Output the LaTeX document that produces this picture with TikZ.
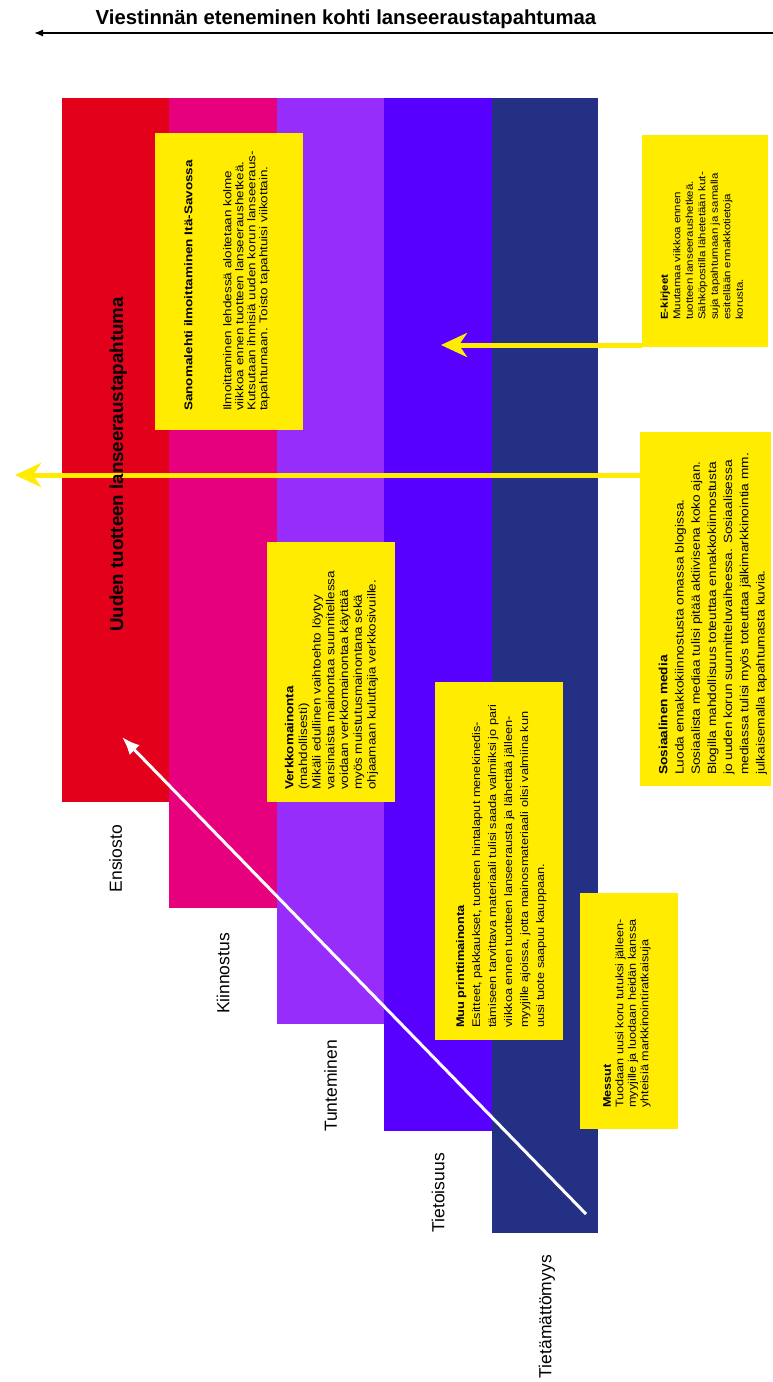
\documentclass[tikz,border=0pt]{standalone}
\usepackage{fontspec}
\setmainfont{Liberation Sans}
\usetikzlibrary{arrows.meta,calc,positioning}
\definecolor{punainen}{RGB}{226,0,26}
\definecolor{pinkki}{RGB}{230,0,126}
\definecolor{violetti}{RGB}{150,45,250}
\definecolor{sinivioletti}{RGB}{88,0,255}
\definecolor{tummansininen}{RGB}{36,48,132}
\definecolor{keltainen}{RGB}{255,236,0}
\tikzset{
  laatikko/.style={fill=keltainen, inner sep=0pt, outer sep=0pt},
  teksti/.style={rotate=90, xscale=#1, inner sep=0pt, anchor=north west, align=left},
  vaihe/.style={rotate=90, anchor=base east, inner sep=0pt, font=\fontsize{17.5}{20}\selectfont},
  keltnuoli/.style={keltainen, line width=5pt, -{Stealth[length=26pt,width=24pt,inset=8pt]}},
  valkonuoli/.style={white, line width=3pt, -{Latex[length=18pt,width=14pt]}},
}

\begin{document}
\begin{tikzpicture}[x=1pt, y=-1pt]
    \fill[white] (0,0) rectangle (773,1382);
    \useasboundingbox (0,0) rectangle (773,1382);
    % Otsikko ja aikanuoli
    \node[font=\bfseries\fontsize{20.3}{24}\selectfont] (otsikko) at (346,19) {Viestinnän eteneminen kohti lanseeraustapahtumaa};
    \coordinate (aikaoikea) at (773,33);
    \coordinate (aikavasen) at (34,33);
    \draw[line width=1.3pt, -{Latex[length=9pt,width=7pt]}] (aikaoikea) -- (aikavasen);
    % Pylväät
    \foreach \vasen/\oikea/\ala/\vari in {62/169/802/punainen, 169/277/908/pinkki, 277/384/1024/violetti, 384/492/1131/sinivioletti, 492/598/1233/tummansininen}
        \fill[\vari] (\vasen,98) rectangle (\oikea,\ala);
    % Vaiheet
    \node[vaihe] (ensiosto) at (121.8,825) {Ensiosto};
    \node[vaihe] (kiinnostus) at (229.3,933) {Kiinnostus};
    \node[vaihe] (tunteminen) at (336.8,1040) {Tunteminen};
    \node[vaihe] (tietoisuus) at (444.3,1153) {Tietoisuus};
    \node[vaihe] (tietamattomyys) at (551.3,1255) {Tietämättömyys};
    % Keltaiset laatikot
    \node[laatikko, minimum width=148pt, minimum height=297pt] (sanomalehti) at (229,281.5) {};
    \node[laatikko, minimum width=126pt, minimum height=212pt] (ekirjeet) at (705,241) {};
    \node[laatikko, minimum width=131pt, minimum height=354pt] (somedia) at (705.5,609) {};
    \node[laatikko, minimum width=128pt, minimum height=260pt] (verkko) at (331,672) {};
    \node[laatikko, minimum width=128pt, minimum height=358pt] (muu) at (499,861) {};
    \node[laatikko, minimum width=98pt, minimum height=236pt] (messut) at (629,1011) {};
    % Keltaiset nuolet
    \coordinate (ekirjeetkarki) at (441,345);
    \coordinate (somediakarki) at (15,475);
    \draw[keltnuoli] (ekirjeet.west |- ekirjeetkarki) -- (ekirjeetkarki);
    \draw[keltnuoli] (somedia.west |- somediakarki) -- (somediakarki);
    % Lanseeraus
    \node[rotate=90, anchor=base west, inner sep=0pt, font=\bfseries\fontsize{18.7}{22}\selectfont] (lanseeraus) at (123,632) {Uuden tuotteen lanseeraustapahtuma};
    % Laatikoiden tekstit
    \node[teksti=1.2, font=\fontsize{11.25}{12}\selectfont] (sanomalehtiteksti) at (184,411) {\textbf{Sanomalehti ilmoittaminen Itä-Savossa}\\[27pt]
        Ilmoittaminen lehdessä aloitetaan kolme\\
        viikkoa ennen tuotteen lanseeraushetkeä.\\
        Kutsutaan ihmisiä uuden korun lanseeraus-\\
        tapahtumaan. Toisto tapahtuisi viikottain.};
    \node[teksti=1.15, font=\fontsize{10}{12.5}\selectfont] (ekirjeetteksti) at (660.4,320) {\textbf{E-kirjeet}\\
        Muutamaa viikkoa ennen\\
        tuotteen lanseeraushetkeä.\\
        Sähköpostilla lähetetään kut-\\
        suja tapahtumaan ja samalla\\
        esitellään ennakkotietoja\\
        korusta.};
    \node[teksti=1.15, font=\fontsize{11.9}{16.2}\selectfont] (somediateksti) at (658.6,775) {\textbf{Sosiaalinen media}\\
        Luoda ennakkokiinnostusta omassa blogissa.\\
        Sosiaalista mediaa tulisi pitää aktiivisena koko ajan.\\
        Blogilla mahdollisuus toteuttaa ennakkokiinnostusta\\
        jo uuden korun suunnitteluvaiheessa. Sosiaalisessa\\
        mediassa tulisi myös toteuttaa jälkimarkkinointia mm.\\
        julkaisemalla tapahtumasta kuvia.};
    \node[teksti=1.15, font=\fontsize{11.65}{13.7}\selectfont] (verkkoteksti) at (284.7,790) {\textbf{Verkkomainonta}\\
        (mahdollisesti)\\
        Mikäli edullinen vaihtoehto löytyy\\
        varsinaista mainontaa suunnitellessa\\
        voidaan verkkomainontaa käyttää\\
        myös muistutusmainontana sekä\\
        ohjaamaan kuluttajia verkkosivuille.};
    \node[teksti=1.15, font=\fontsize{11.1}{16}\selectfont] (muuteksti) at (455.9,1028) {\textbf{Muu printtimainonta}\\
        Esitteet, pakkaukset, tuotteen hintalaput menekinedis-\\
        tämiseen tarvittava materiaali tulisi saada valmiiksi jo pari\\
        viikkoa ennen tuotteen lanseerausta ja lähettää jälleen-\\
        myyjille ajoissa, jotta mainosmateriaali olisi valmiina kun\\
        uusi tuote saapuu kauppaan.};
    \node[teksti=1.15, font=\fontsize{11}{12.5}\selectfont] (messutteksti) at (603,1108) {\textbf{Messut}\\
        Tuodaan uusi koru tutuksi jälleen-\\
        myyjille ja luodaan heidän kanssa\\
        yhteisiä markkinointiratkaisuja};
    % Valkoinen nuoli
    \coordinate (nuolialku) at (586,1214);
    \coordinate (nuolikarki) at (122,737);
    \draw[valkonuoli] (nuolialku) -- (nuolikarki);
\end{tikzpicture}
\end{document}
